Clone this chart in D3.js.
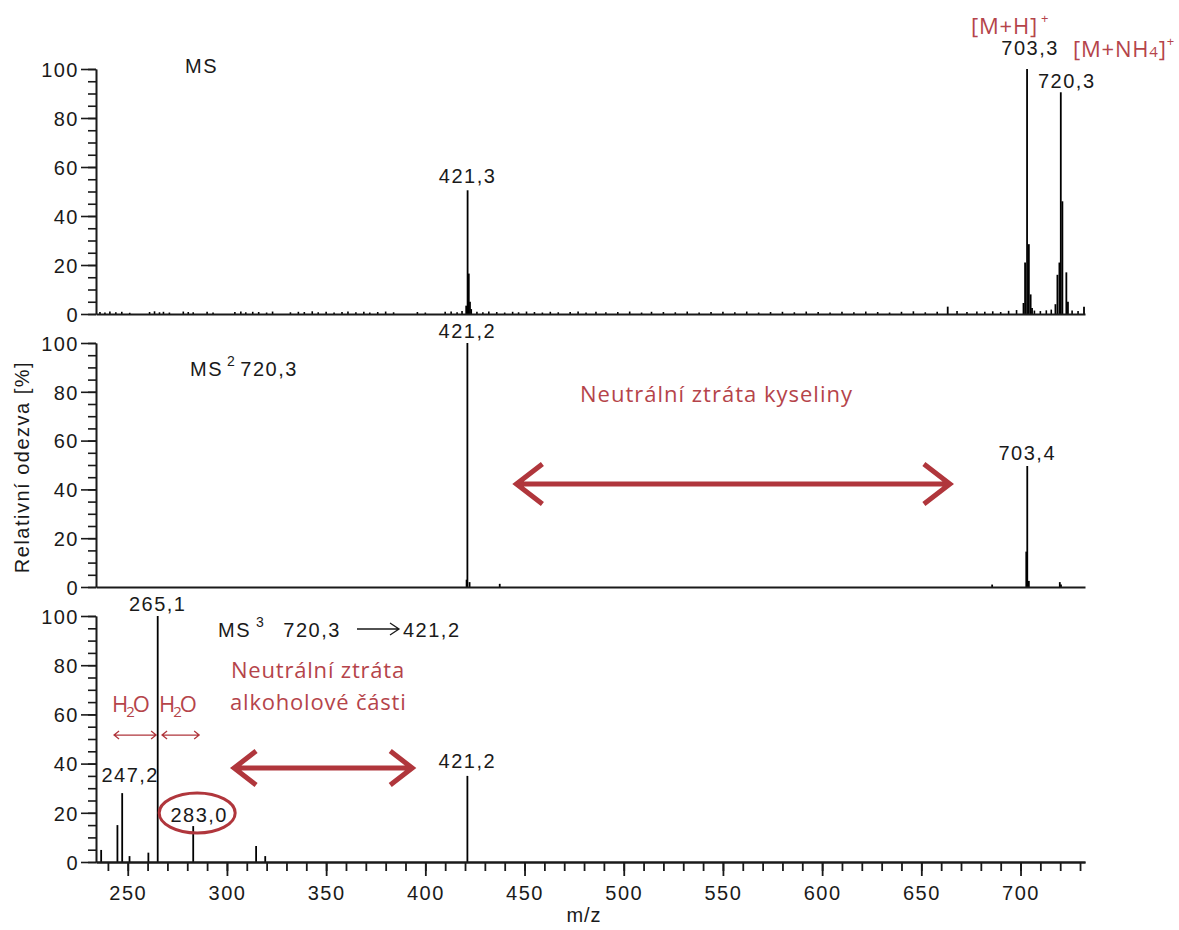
<!DOCTYPE html>
<html>
<head>
<meta charset="utf-8">
<script src="https://cdn.jsdelivr.net/npm/d3@7"></script>
<style>
  body { margin: 0; background: #fff; }
  svg { display: block; }
  .num { font-family: "Liberation Sans", Arial, sans-serif; font-size: 20px; letter-spacing: 1.5px; fill: #1a1a1a; }
  .red { font-family: "Open Sans", "Noto Sans", sans-serif; font-size: 22px; letter-spacing: 0.8px; fill: #b5444a; }
</style>
</head>
<body>
<svg id="chart" width="1179" height="930"></svg>
<script>
// ---- shared axis settings ----
const mzRange = [234, 732.5];
const mzMajorTicks = [250, 300, 350, 400, 450, 500, 550, 600, 650, 700];
const mzMinorTicks = d3.range(240, 731, 10);
const intensityLabels = [0, 20, 40, 60, 80, 100];
const intensityMinor = d3.range(0, 101, 5);

// ---- MS (full scan) ----
const msMz  = [420.6, 421.3, 421.9, 422.5, 423.1, 663.3, 701.5, 702.3, 703.3, 704.2, 705.1, 705.8,
               717.6, 718.6, 719.6, 720.3, 721.1, 723.1, 723.9, 732.0];
const msInt = [3.4, 50.5, 16.5, 5, 2, 3, 4.5, 21, 100, 28.5, 8, 2.5,
               4, 16, 21, 90.5, 46, 17, 5, 3];
const msNoiseMz  = [236, 238.5, 241, 244, 247, 251, 261, 263.5, 266, 268, 271, 278, 280.5, 283,
                    290, 293, 304, 307, 309.5, 313, 316, 320, 323, 332, 336, 339, 343, 346, 350,
                    354, 358, 361, 365, 369, 372, 376, 380, 384, 396, 400, 410, 413, 416, 418.5,
                    426, 429, 432, 436, 440, 444, 447, 451, 455, 459, 463, 467, 473, 477, 481,
                    486, 491, 497, 503, 509, 514, 520, 526, 532, 538, 544, 550, 556, 562, 568,
                    574, 580, 586, 592, 598, 604, 610, 616, 622, 628, 634, 640, 646, 652, 658,
                    668, 673, 678, 682, 686, 690, 694, 698, 707, 710, 713, 715.5, 726, 729];
const msNoiseInt = [0.8, 0.6, 1.0, 0.7, 0.9, 0.5, 0.8, 1.1, 0.7, 0.9, 0.6, 1.0, 0.8, 0.7,
                    0.9, 0.6, 0.8, 1.0, 0.7, 0.9, 0.8, 0.6, 1.0, 0.7, 0.9, 0.8, 1.1, 0.7, 0.9,
                    0.6, 0.8, 1.0, 0.7, 0.9, 0.6, 0.8, 1.0, 0.7, 0.8, 0.6, 0.9, 1.0, 0.7, 1.2,
                    0.9, 0.7, 1.0, 0.8, 0.6, 0.9, 0.7, 1.0, 0.8, 0.6, 0.9, 0.7, 0.8, 1.0, 0.6,
                    0.9, 0.7, 0.8, 1.0, 0.6, 0.9, 0.8, 0.7, 1.0, 0.6, 0.8, 0.9, 0.7, 1.0, 0.6,
                    0.8, 0.9, 0.7, 1.0, 0.8, 0.6, 0.9, 0.7, 1.0, 0.8, 0.6, 0.9, 1.1, 0.7, 0.9,
                    1.2, 0.8, 1.0, 0.9, 1.1, 0.8, 1.3, 1.6, 1.4, 1.2, 1.5, 1.8, 1.4, 1.2];

// ---- MS2 of 720,3 ----
const ms2Mz  = [420.8, 421.2, 422.3, 437.5, 685.7, 702.9, 703.4, 704.2, 719.8, 720.4];
const ms2Int = [3, 100, 2, 1.3, 1, 14.5, 49.6, 2.5, 2, 1];

// ---- MS3 720,3 -> 421,2 ----
const ms3Mz  = [236.6, 244.8, 247.2, 250.9, 260.4, 265.1, 283.0, 314.7, 319.3, 421.2];
const ms3Int = [4.9, 15, 28, 2.4, 3.8, 100, 14.6, 6.5, 2.4, 35];

// ---- peak labels: [panel, text, m/z, intensity] ----
const peakLabels = [
  [0, "421,3", 421.3, 50.5],
  [0, "703,3", 703.3, 100],
  [0, "720,3", 720.3, 90.5],
  [1, "421,2", 421.2, 100],
  [1, "703,4", 703.4, 49.6],
  [2, "265,1", 265.1, 100],
  [2, "247,2", 247.2, 28],
  [2, "283,0", 283.0, 14.6],
  [2, "421,2", 421.2, 35]
];
// label offsets from the top of its peak (dx, dy in px)
const labelOffsets = [[0, -7], [3, -14], [6, -4], [0, -5], [0, -6], [0, -5], [8, -11], [6, -4], [0, -8]];

const svg = d3.select("#chart");
const arrowRed = "#b0363c";

const x = d3.scaleLinear().domain(mzRange).range([96, 1085]);
const panels = [
  { y: d3.scaleLinear().domain([0, 100]).range([314, 69]),  mz: msMz,  val: msInt },
  { y: d3.scaleLinear().domain([0, 100]).range([587, 343]), mz: ms2Mz, val: ms2Int },
  { y: d3.scaleLinear().domain([0, 100]).range([862, 616]), mz: ms3Mz, val: ms3Int }
];

// peaks
panels.forEach((p, i) => {
  const g = svg.append("g");
  if (i === 0) {
    g.selectAll("line.noise").data(d3.zip(msNoiseMz, msNoiseInt)).join("line")
      .attr("class", "noise")
      .attr("x1", d => x(d[0])).attr("x2", d => x(d[0]))
      .attr("y1", p.y(0)).attr("y2", d => p.y(d[1]))
      .attr("stroke", "#000").attr("stroke-width", 1.6);
  }
  g.selectAll("line.peak").data(d3.zip(p.mz, p.val)).join("line")
    .attr("class", "peak")
    .attr("x1", d => x(d[0])).attr("x2", d => x(d[0]))
    .attr("y1", p.y(0)).attr("y2", d => p.y(d[1]))
    .attr("stroke", "#000").attr("stroke-width", 1.8);
});

// axes
panels.forEach((p, i) => {
  const yMinor = d3.axisLeft(p.y).tickValues(intensityMinor).tickSize(8).tickSizeOuter(0).tickFormat("");
  const yMajor = d3.axisLeft(p.y).tickValues(intensityLabels).tickSize(15).tickSizeOuter(0).tickPadding(2);
  const ga = svg.append("g").attr("transform", `translate(${x.range()[0]},0)`);
  ga.call(yMinor);
  ga.append("g").call(yMajor);
  ga.selectAll("path, line").attr("stroke", "#1a1a1a").attr("stroke-width", 1.6);
  ga.selectAll("text").attr("class", "num").attr("font-size", null).attr("font-family", null)
    .attr("fill", null).attr("dy", "0.36em");

  const gx = svg.append("g").attr("transform", `translate(0,${p.y(0)})`);
  if (i < 2) {
    gx.call(d3.axisBottom(x).tickValues([]).tickSizeOuter(0));
  } else {
    gx.call(d3.axisBottom(x).tickValues(mzMinorTicks).tickSize(9).tickSizeOuter(0).tickFormat(""));
    gx.append("g").call(d3.axisBottom(x).tickValues(mzMajorTicks).tickSize(14).tickSizeOuter(0).tickPadding(3));
    gx.selectAll("text").attr("class", "num").attr("font-size", null).attr("font-family", null)
      .attr("fill", null).attr("dy", "1.05em");
  }
  gx.selectAll("path, line").attr("stroke", "#1a1a1a").attr("stroke-width", 1.8);
});

// peak labels
svg.append("g").selectAll("text").data(peakLabels).join("text")
  .attr("class", "num")
  .attr("text-anchor", "middle")
  .attr("x", (d, i) => x(d[2]) + labelOffsets[i][0])
  .attr("y", (d, i) => panels[d[0]].y(d[3]) + labelOffsets[i][1])
  .text(d => d[1]);

// scan titles
function title(px, py, base, sup, supGap, rest, restGap) {
  const t = svg.append("text").attr("class", "num").attr("x", px).attr("y", py);
  t.append("tspan").text(base);
  if (sup) t.append("tspan").attr("font-size", 14).attr("dx", supGap).attr("dy", -10).text(sup);
  if (rest) t.append("tspan").attr("dx", restGap).attr("dy", sup ? 10 : 0).text(rest);
  return t;
}
title(185, 73, "MS");
title(190, 376, "MS", "2", 4, "720,3", 4);
title(218, 637, "MS", "3", 5, "720,3", 18);
svg.append("text").attr("class", "num").attr("x", 403).attr("y", 637).text("421,2");

// thin reaction arrow in MS3 title
svg.append("path")
  .attr("d", "M357,629 H398 M390,623 L399,629 L390,635")
  .attr("fill", "none").attr("stroke", "#1a1a1a").attr("stroke-width", 1.3);

// ion annotations
const mh = svg.append("text").attr("class", "red").attr("x", 971).attr("y", 34);
mh.append("tspan").text("[M+H]");
mh.append("tspan").attr("font-size", 13).attr("dx", 3).attr("dy", -11).text("+");
const mnh = svg.append("text").attr("class", "red").attr("x", 1073).attr("y", 57);
mnh.append("tspan").text("[M+NH");
mnh.append("tspan").attr("font-size", 15).text("4");
mnh.append("tspan").text("]");
mnh.append("tspan").attr("font-size", 13).attr("dy", -11).text("+");

// neutral loss texts
svg.append("text").attr("class", "red").style("letter-spacing", "1px").attr("x", 580).attr("y", 402).text("Neutrální ztráta kyseliny");
svg.append("text").attr("class", "red").attr("x", 231).attr("y", 678).text("Neutrální ztráta");
svg.append("text").attr("class", "red").attr("x", 230).attr("y", 710).text("alkoholové části");
[112, 159].forEach(px => {
  const t = svg.append("text").attr("class", "red").style("letter-spacing", "0px").attr("x", px).attr("y", 712);
  t.append("tspan").text("H");
  t.append("tspan").attr("font-size", 15).attr("dx", -2).attr("dy", 5).text("2");
  t.append("tspan").attr("dx", -2).attr("dy", -5).text("O");
});

// double-headed arrows: [panel, m/z from, m/z to, intensity, head length, head half-height, width]
const arrows = [
  [1, 445.9, 664.4, 42.2, 26, 20, 5],
  [2, 303.6, 393.4, 38.2, 22, 17, 5],
  [2, 243.1, 264.3, 51.6, 5, 4, 1.3],
  [2, 267.3, 286.0, 51.6, 5, 4, 1.3]
];
arrows.forEach(a => {
  const y0 = panels[a[0]].y(a[3]);
  const x1 = x(a[1]), x2 = x(a[2]);
  const h = a[4], v = a[5];
  svg.append("path")
    .attr("d", `M${x1},${y0} H${x2} M${x1 + h},${y0 - v} L${x1},${y0} L${x1 + h},${y0 + v} M${x2 - h},${y0 - v} L${x2},${y0} L${x2 - h},${y0 + v}`)
    .attr("fill", "none").attr("stroke", arrowRed).attr("stroke-width", a[6])
    .attr("stroke-linejoin", "miter").attr("stroke-linecap", "butt");
});

// highlight ring around the 283,0 fragment
svg.append("ellipse")
  .attr("cx", x(285)).attr("cy", panels[2].y(19.9))
  .attr("rx", 38).attr("ry", 20)
  .attr("fill", "none").attr("stroke", arrowRed).attr("stroke-width", 3);

// axis titles
svg.append("text")
  .attr("transform", "translate(29,467) rotate(-90)")
  .attr("text-anchor", "middle")
  .attr("font-family", "Liberation Sans, Arial, sans-serif")
  .attr("font-size", 20).style("letter-spacing", "1.5px").attr("fill", "#1a1a1a")
  .text("Relativní odezva [%]");
svg.append("text")
  .attr("x", 584).attr("y", 922).attr("text-anchor", "middle")
  .attr("font-family", "Liberation Sans, Arial, sans-serif")
  .attr("font-size", 20).style("letter-spacing", "1px").attr("fill", "#1a1a1a")
  .text("m/z");
</script>
</body>
</html>
